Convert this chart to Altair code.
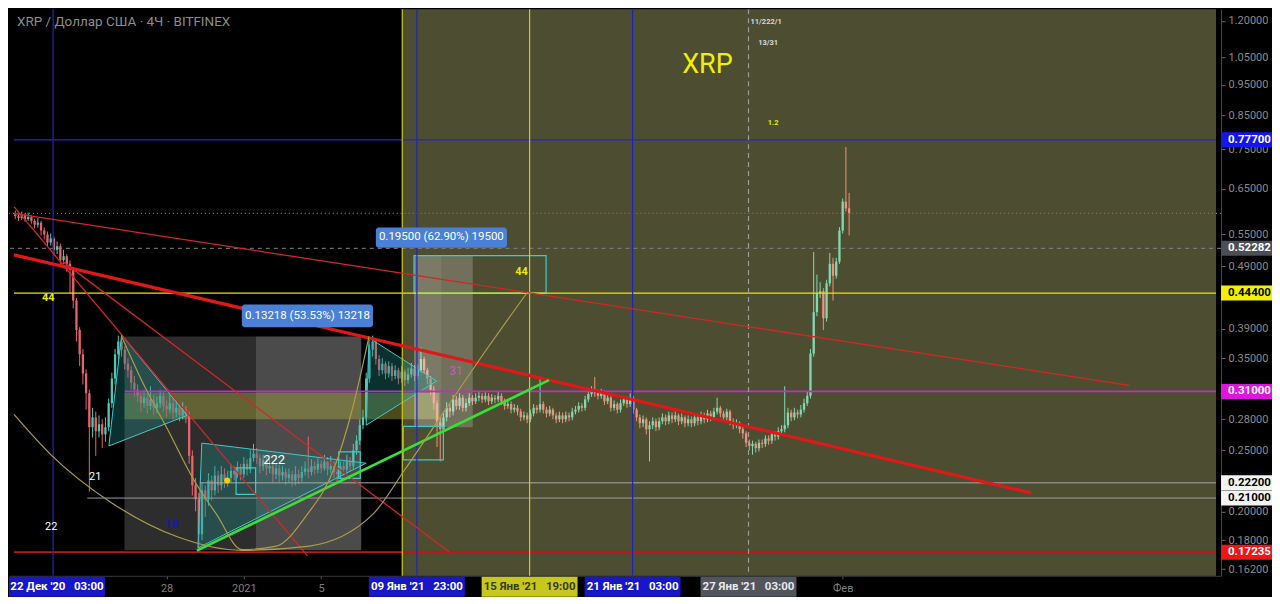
import altair as alt
import pandas as pd

# ---------------- layout ----------------
W, H = 1213, 567          # plot area
AX_R, AX_B = 51, 21       # right price axis / bottom time axis strips

X_DOMAIN = ["2020-12-20T02:24Z", "2021-02-20T07:54Z"]
Y_DOMAIN = [0.1581, 1.252]

TITLE = "XRP / Доллар США · 4Ч · BITFINEX"

# ---------------- candles (4h, Bitfinex XRP/USD) ----------------
CANDLE_START = "2020-12-20 04:00"
FIRST_OPEN = 0.592
CLOSES = [
    0.588, 0.584, 0.590, 0.582, 0.586, 0.578, 0.570, 0.574, 0.558, 0.550,
    0.534, 0.542, 0.520, 0.527, 0.501, 0.508, 0.494, 0.483, 0.432, 0.388,
    0.355, 0.331, 0.308, 0.272, 0.282, 0.268, 0.275, 0.265, 0.272, 0.297,
    0.325, 0.355, 0.372, 0.361, 0.343, 0.335, 0.320, 0.312, 0.305, 0.297,
    0.303, 0.294, 0.301, 0.292, 0.297, 0.305, 0.294, 0.290, 0.297, 0.287,
    0.292, 0.284, 0.290, 0.284, 0.245, 0.220, 0.209, 0.184, 0.216, 0.209,
    0.224, 0.216, 0.228, 0.220, 0.229, 0.224, 0.226, 0.232, 0.229, 0.234,
    0.229, 0.238, 0.233, 0.243, 0.247, 0.243, 0.236, 0.241, 0.234, 0.236,
    0.229, 0.234, 0.228, 0.231, 0.226, 0.229, 0.224, 0.229, 0.226, 0.231,
    0.234, 0.231, 0.236, 0.233, 0.238, 0.234, 0.240, 0.233, 0.236, 0.231,
    0.229, 0.236, 0.233, 0.240, 0.236, 0.250, 0.259, 0.274, 0.282, 0.325,
    0.361, 0.372, 0.349, 0.335, 0.343, 0.331, 0.340, 0.328, 0.335, 0.325,
    0.333, 0.323, 0.330, 0.337, 0.328, 0.335, 0.349, 0.335, 0.325, 0.312,
    0.297, 0.277, 0.270, 0.282, 0.292, 0.288, 0.301, 0.294, 0.303, 0.292,
    0.297, 0.303, 0.299, 0.303, 0.305, 0.301, 0.305, 0.299, 0.303, 0.301,
    0.305, 0.299, 0.294, 0.296, 0.290, 0.292, 0.288, 0.282, 0.284, 0.280,
    0.286, 0.292, 0.290, 0.296, 0.290, 0.286, 0.290, 0.284, 0.280, 0.284,
    0.280, 0.284, 0.282, 0.288, 0.290, 0.294, 0.292, 0.301, 0.307, 0.312,
    0.308, 0.305, 0.309, 0.299, 0.303, 0.292, 0.296, 0.290, 0.297, 0.301,
    0.296, 0.303, 0.290, 0.282, 0.276, 0.280, 0.270, 0.274, 0.278, 0.272,
    0.278, 0.282, 0.278, 0.284, 0.280, 0.284, 0.278, 0.282, 0.276, 0.280,
    0.276, 0.282, 0.278, 0.284, 0.280, 0.286, 0.282, 0.288, 0.292, 0.286,
    0.282, 0.288, 0.278, 0.274, 0.276, 0.270, 0.266, 0.257, 0.254, 0.256,
    0.252, 0.257, 0.256, 0.261, 0.259, 0.265, 0.263, 0.268, 0.270, 0.274,
    0.287, 0.282, 0.287, 0.285, 0.290, 0.297, 0.305, 0.356, 0.414, 0.444,
    0.447, 0.405, 0.460, 0.494, 0.473, 0.498, 0.558, 0.620, 0.605, 0.594,
]
HIGHS = [
    0.600, 0.594, 0.598, 0.594, 0.596, 0.590, 0.582, 0.584, 0.578, 0.564,
    0.556, 0.552, 0.546, 0.536, 0.532, 0.520, 0.512, 0.500, 0.488, 0.436,
    0.392, 0.362, 0.336, 0.312, 0.292, 0.288, 0.284, 0.280, 0.282, 0.302,
    0.332, 0.362, 0.380, 0.378, 0.366, 0.350, 0.340, 0.328, 0.318, 0.310,
    0.312, 0.308, 0.316, 0.306, 0.304, 0.312, 0.310, 0.300, 0.306, 0.302,
    0.300, 0.296, 0.298, 0.294, 0.288, 0.250, 0.226, 0.214, 0.222, 0.220,
    0.230, 0.228, 0.236, 0.232, 0.236, 0.234, 0.232, 0.238, 0.236, 0.240,
    0.238, 0.244, 0.242, 0.250, 0.256, 0.252, 0.246, 0.246, 0.244, 0.242,
    0.240, 0.238, 0.237, 0.236, 0.234, 0.234, 0.232, 0.236, 0.233, 0.236,
    0.240, 0.263, 0.242, 0.240, 0.243, 0.241, 0.246, 0.244, 0.245, 0.240,
    0.236, 0.240, 0.240, 0.246, 0.244, 0.256, 0.264, 0.280, 0.290, 0.332,
    0.368, 0.380, 0.376, 0.354, 0.350, 0.346, 0.346, 0.344, 0.341, 0.338,
    0.340, 0.336, 0.338, 0.344, 0.341, 0.342, 0.364, 0.352, 0.338, 0.328,
    0.316, 0.300, 0.282, 0.288, 0.298, 0.296, 0.306, 0.305, 0.308, 0.306,
    0.302, 0.308, 0.306, 0.308, 0.310, 0.308, 0.309, 0.308, 0.307, 0.306,
    0.310, 0.308, 0.302, 0.300, 0.299, 0.296, 0.295, 0.291, 0.288, 0.287,
    0.290, 0.296, 0.295, 0.327, 0.299, 0.293, 0.294, 0.292, 0.287, 0.288,
    0.287, 0.288, 0.287, 0.292, 0.294, 0.298, 0.297, 0.305, 0.312, 0.316,
    0.327, 0.312, 0.313, 0.311, 0.307, 0.305, 0.300, 0.298, 0.301, 0.305,
    0.304, 0.308, 0.305, 0.292, 0.285, 0.284, 0.282, 0.278, 0.282, 0.281,
    0.282, 0.286, 0.285, 0.288, 0.287, 0.288, 0.286, 0.286, 0.284, 0.284,
    0.283, 0.286, 0.285, 0.288, 0.287, 0.290, 0.289, 0.292, 0.303, 0.294,
    0.289, 0.291, 0.290, 0.281, 0.280, 0.278, 0.273, 0.268, 0.260, 0.259,
    0.258, 0.260, 0.260, 0.264, 0.264, 0.268, 0.268, 0.272, 0.274, 0.316,
    0.292, 0.290, 0.292, 0.290, 0.295, 0.302, 0.310, 0.362, 0.516, 0.475,
    0.462, 0.452, 0.466, 0.514, 0.505, 0.505, 0.565, 0.627, 0.757, 0.640,
]
LOWS = [
    0.582, 0.578, 0.580, 0.576, 0.578, 0.572, 0.562, 0.564, 0.548, 0.540,
    0.526, 0.528, 0.508, 0.512, 0.490, 0.494, 0.480, 0.444, 0.420, 0.372,
    0.340, 0.318, 0.290, 0.215, 0.262, 0.245, 0.262, 0.252, 0.258, 0.268,
    0.292, 0.318, 0.348, 0.352, 0.336, 0.326, 0.312, 0.304, 0.298, 0.288,
    0.292, 0.286, 0.290, 0.284, 0.286, 0.292, 0.288, 0.282, 0.286, 0.280,
    0.282, 0.278, 0.280, 0.276, 0.238, 0.212, 0.200, 0.172, 0.180, 0.196,
    0.204, 0.208, 0.212, 0.214, 0.216, 0.218, 0.219, 0.222, 0.224, 0.226,
    0.224, 0.226, 0.228, 0.230, 0.240, 0.238, 0.230, 0.232, 0.228, 0.230,
    0.222, 0.225, 0.222, 0.224, 0.220, 0.222, 0.219, 0.220, 0.221, 0.223,
    0.228, 0.226, 0.228, 0.229, 0.230, 0.230, 0.232, 0.228, 0.230, 0.226,
    0.222, 0.226, 0.228, 0.230, 0.231, 0.233, 0.246, 0.255, 0.270, 0.278,
    0.320, 0.352, 0.342, 0.328, 0.330, 0.324, 0.326, 0.322, 0.324, 0.318,
    0.320, 0.316, 0.319, 0.326, 0.322, 0.324, 0.332, 0.330, 0.318, 0.306,
    0.290, 0.253, 0.240, 0.264, 0.278, 0.282, 0.284, 0.290, 0.290, 0.288,
    0.288, 0.294, 0.295, 0.296, 0.299, 0.297, 0.298, 0.295, 0.296, 0.297,
    0.298, 0.295, 0.290, 0.291, 0.286, 0.287, 0.284, 0.278, 0.279, 0.276,
    0.277, 0.283, 0.286, 0.287, 0.286, 0.282, 0.283, 0.280, 0.276, 0.277,
    0.276, 0.277, 0.278, 0.279, 0.285, 0.287, 0.288, 0.289, 0.298, 0.304,
    0.304, 0.301, 0.302, 0.295, 0.296, 0.288, 0.289, 0.286, 0.287, 0.294,
    0.292, 0.293, 0.286, 0.278, 0.271, 0.272, 0.265, 0.240, 0.270, 0.268,
    0.269, 0.275, 0.274, 0.275, 0.276, 0.277, 0.274, 0.275, 0.272, 0.273,
    0.272, 0.273, 0.274, 0.275, 0.276, 0.277, 0.278, 0.279, 0.285, 0.282,
    0.278, 0.279, 0.274, 0.270, 0.271, 0.266, 0.261, 0.253, 0.250, 0.246,
    0.248, 0.249, 0.252, 0.253, 0.255, 0.256, 0.259, 0.260, 0.264, 0.267,
    0.271, 0.278, 0.279, 0.281, 0.282, 0.287, 0.294, 0.302, 0.352, 0.408,
    0.436, 0.388, 0.400, 0.455, 0.432, 0.468, 0.494, 0.552, 0.598, 0.548,
]

# ---------------- drawings (dates / prices) ----------------
H_SOLID = [
    (0.777, X_DOMAIN[0], X_DOMAIN[1], "#2626c4", 1.2),
    (0.444, X_DOMAIN[0], X_DOMAIN[1], "#e8e800", 1.2),
    (0.310, "2020-12-25T20:00Z", X_DOMAIN[1], "#c42cc4", 1.8),
    (0.222, "2020-12-29T17:18Z", X_DOMAIN[1], "#a8a8a8", 1.0),
    (0.210, "2020-12-23T21:30Z", X_DOMAIN[1], "#9c9c9c", 1.0),
    (0.17235, X_DOMAIN[0], X_DOMAIN[1], "#b41a1a", 1.6),
]
H_DASHED = [(0.52282, "#858585")]
H_DOTTED = [(0.594, "#a86a55")]

V_SOLID = [
    ("2020-12-22T03:00Z", "#2424b4"),
    ("2021-01-09T23:00Z", "#2424b4"),
    ("2021-01-21T03:00Z", "#2424b4"),
    ("2021-01-09T04:48Z", "#cccc10"),
    ("2021-01-15T19:00Z", "#cccc10"),
]
V_DASHED = [("2021-01-27T03:00Z", "#9a9a9a")]

OLIVE_START = "2021-01-09T04:48Z"

RED_THIN = [
    ("2020-12-20T02:24Z", 0.594, "2021-02-15T19:42Z", 0.317),
    ("2020-12-20T02:24Z", 0.609, "2021-01-04T07:00Z", 0.170),
    ("2020-12-22T15:12Z", 0.498, "2021-01-11T15:12Z", 0.1725),
]
RED_THICK = [("2020-12-20T02:24Z", 0.5105, "2021-02-10T18:12Z", 0.214)]
GREEN_LINE = [("2020-12-29T13:36Z", 0.1733, "2021-01-16T19:06Z", 0.323)]

ARC_BIG_T = ["2020-12-20T02:24Z", "2020-12-21T23:24Z", "2020-12-25T03:54Z", "2020-12-28T13:18Z",
             "2020-12-31T21:30Z", "2021-01-04T07:00Z", "2021-01-07T16:24Z", "2021-01-09T08:30Z",
             "2021-01-11T12:42Z", "2021-01-13T13:18Z", "2021-01-15T16:24Z"]
ARC_BIG_P = [0.285, 0.2466, 0.2063, 0.1823, 0.1735, 0.1760, 0.198, 0.2335, 0.293, 0.361, 0.4455]
ARC_SMALL_T = ["2020-12-25T16:06Z", "2020-12-26T20:00Z", "2020-12-28T01:12Z", "2020-12-29T08:48Z",
               "2020-12-30T13:54Z", "2020-12-31T21:30Z", "2021-01-02T14:54Z", "2021-01-04T07:00Z",
               "2021-01-05T15:48Z", "2021-01-06T16:06Z", "2021-01-07T11:30Z"]
ARC_SMALL_P = [0.379, 0.317, 0.270, 0.2256, 0.198, 0.1740, 0.1760, 0.198, 0.2335, 0.295, 0.379]

TRI_T = [
    ["2020-12-25T00:18Z", "2020-12-25T16:06Z", "2020-12-29T01:30Z"],
    ["2020-12-29T19:42Z", "2021-01-07T07:54Z", "2020-12-29T14:54Z"],
    ["2021-01-07T11:30Z", "2021-01-10T23:24Z", "2021-01-07T07:54Z"],
]
TRI_P = [
    [0.254, 0.381, 0.284],
    [0.2567, 0.2385, 0.175],
    [0.377, 0.322, 0.274],
]

CYAN_BOXES = [
    ("2020-12-31T14:18Z", "2021-01-01T14:36Z", 0.2344, 0.2128),
    ("2021-01-05T21:48Z", "2021-01-07T00:36Z", 0.2485, 0.2256),
    ("2021-01-09T06:06Z", "2021-01-11T07:54Z", 0.2728, 0.2414),
    ("2021-01-09T19:24Z", "2021-01-16T15:30Z", 0.509, 0.444),
]
SHADES = [
    ("2020-12-25T19:42Z", "2021-01-01T14:36Z", 0.379, 0.1735, "#2d2d2d", 1.0),
    ("2021-01-01T14:36Z", "2021-01-07T01:48Z", 0.379, 0.1735, "#4b4b4b", 1.0),
    ("2020-12-25T19:42Z", "2021-01-11T02:54Z", 0.3085, 0.280, "#a4a440", 0.45),
]
LIGHT_SHADES = [
    ("2021-01-09T19:24Z", "2021-01-12T20:24Z", 0.509, 0.272, "#ffffff", 0.20),
    ("2021-01-09T19:24Z", "2021-01-11T05:24Z", 0.509, 0.272, "#ffffff", 0.07),
]

MEASURES = [
    ("2020-12-31T21:30Z", "2021-01-07T16:24Z", 0.426, 0.392, "0.13218 (53.53%) 13218",
     "2021-01-04T07:00Z", 0.4085),
    ("2021-01-07T20:00Z", "2021-01-14T14:54Z", 0.564, 0.524, "0.19500 (62.90%) 19500",
     "2021-01-11T05:24Z", 0.544),
]

TEXTS = [
    ("44", "2020-12-21T21:00Z", 0.436, "#e8e800", 11, True),
    ("21", "2020-12-24T07:18Z", 0.227, "#ffffff", 11, False),
    ("22", "2020-12-22T00:36Z", 0.189, "#ffffff", 11, False),
    ("18", "2020-12-28T06:00Z", 0.191, "#1c1c96", 13, True),
    ("222", "2021-01-02T13:36Z", 0.2414, "#ffffff", 13, False),
    ("31", "2021-01-11T23:42Z", 0.3335, "#c060c0", 12, False),
    ("44", "2021-01-15T09:06Z", 0.480, "#e8e800", 11, True),
    ("XRP", "2021-01-25T00:00Z", 1.023, "#f0f000", 27, False),
    ("11/222/1", "2021-01-28T00:54Z", 1.196, "#d8d8d8", 7.5, True),
    ("13/31", "2021-01-28T03:24Z", 1.105, "#d8d8d8", 7.5, True),
    ("1.2", "2021-01-28T09:30Z", 0.827, "#e8e800", 7.5, True),
]
DOT = [("2020-12-31T03:18Z", 0.224)]

Y_TICKS = [1.2, 1.05, 0.95, 0.85, 0.75, 0.65, 0.55, 0.49, 0.39, 0.35, 0.28, 0.25, 0.20, 0.18, 0.162]
X_TICKS = ["2020-12-28T00:00Z", "2021-01-01T00:00Z", "2021-01-05T00:00Z", "2021-02-01T00:00Z"]

PRICE_BADGES = [
    (0.777, "0.77700", "#1515f0", "#ffffff"),
    (0.52282, "0.52282", "#4b4e56", "#ffffff"),
    (0.444, "0.44400", "#f2f200", "#000000"),
    (0.310, "0.31000", "#e014e0", "#ffffff"),
    (0.222, "0.22200", "#f4f4f4", "#000000"),
    (0.210, "0.21000", "#f4f4f4", "#000000"),
    (0.17235, "0.17235", "#f01414", "#ffffff"),
]
TIME_BADGES = [
    ("2021-01-09T23:00Z", "09 Янв '21", "23:00", "#1717c8", "#ffffff"),
    ("2021-01-15T19:00Z", "15 Янв '21", "19:00", "#c8c81c", "#3a3a10"),
    ("2021-01-21T03:00Z", "21 Янв '21", "03:00", "#1717c8", "#ffffff"),
    ("2021-01-27T03:00Z", "27 Янв '21", "03:00", "#53555c", "#e8e8e8"),
]
FIRST_BADGE = ("22 Дек '20", "03:00", "#1717c8", "#ffffff")

GREEN, RED = "#4cc9b4", "#e8636b"
FONT = "Roboto"
SP = "\u00a0\u00a0\u00a0"


# ---------------- helpers ----------------
def ms(s):
    return int(pd.Timestamp(s).value // 10**6)


XS = alt.Scale(type="utc", domain=[ms(d) for d in X_DOMAIN], nice=False)
YS = alt.Scale(type="log", domain=Y_DOMAIN, nice=False)

X_AXIS = alt.Axis(
    values=[ms(v) for v in X_TICKS],
    labelExpr="utcmonth(datum.value)==0 && utcdate(datum.value)==1 ? '2021' : "
              "(utcmonth(datum.value)==1 && utcdate(datum.value)==1 ? 'Фев' : '' + utcdate(datum.value))",
    labelColor="#7e7e7e", labelFont=FONT, labelFontSize=11, labelPadding=4,
    tickColor="#5a5a5a", tickSize=3, domainColor="#3a3a3a", grid=False,
    labelFlush=False, labelOverlap=False, title=None,
)
Y_AXIS = alt.Axis(
    orient="right", values=Y_TICKS, format=".5f",
    labelColor="#8a8a8a", labelFont=FONT, labelFontSize=11, labelPadding=3,
    tickColor="#6a6a6a", tickSize=4, domainColor="#4a4a4a", grid=False,
    labelFlush=False, labelOverlap=False, title=None,
)


def X(f):
    return alt.X(f"{f}:T", scale=XS, axis=X_AXIS, title=None)


def Y(f):
    return alt.Y(f"{f}:Q", scale=YS, axis=Y_AXIS, title=None)


times = pd.date_range(CANDLE_START, periods=len(CLOSES), freq="4h").strftime("%Y-%m-%dT%H:%MZ")
opens = [FIRST_OPEN] + CLOSES[:-1]
cdf = pd.DataFrame({"t": list(times), "o": opens, "c": CLOSES, "h": HIGHS, "l": LOWS})
cdf["d"] = ["up" if c >= o else "down" for o, c in zip(cdf.o, cdf.c)]
ccol = alt.Color("d:N", scale=alt.Scale(domain=["up", "down"], range=[GREEN, RED]), legend=None)

layers = []

sdf = pd.DataFrame(SHADES, columns=["t1", "t2", "p1", "p2", "col", "op"])
layers.append(alt.Chart(sdf).mark_rect().encode(
    x=X("t1"), x2="t2", y=Y("p1"), y2="p2",
    color=alt.Color("col:N", scale=None), opacity=alt.Opacity("op:Q", scale=None)))

layers.append(alt.Chart(cdf).mark_rule(strokeWidth=1).encode(
    x=X("t"), y=Y("l"), y2="h", color=ccol))
layers.append(alt.Chart(cdf).mark_bar(width=2.3).encode(x=X("t"), y=Y("o"), y2="c", color=ccol))

odf = pd.DataFrame({"t1": [OLIVE_START], "t2": [X_DOMAIN[1]], "p1": [Y_DOMAIN[1]], "p2": [Y_DOMAIN[0]]})
layers.append(alt.Chart(odf).mark_rect(color="#ffffa6", opacity=0.30).encode(
    x=X("t1"), x2="t2", y=Y("p1"), y2="p2"))

ldf = pd.DataFrame(LIGHT_SHADES, columns=["t1", "t2", "p1", "p2", "col", "op"])
layers.append(alt.Chart(ldf).mark_rect().encode(
    x=X("t1"), x2="t2", y=Y("p1"), y2="p2",
    color=alt.Color("col:N", scale=None), opacity=alt.Opacity("op:Q", scale=None)))

trows = []
for i, (ts, ps) in enumerate(zip(TRI_T, TRI_P)):
    for k, (t, p) in enumerate(zip(ts, ps)):
        trows.append({"id": i, "k": k, "t": t, "p": p})
tdf = pd.DataFrame(trows)
layers.append(alt.Chart(tdf).mark_line(
    interpolate="linear-closed", fill="#1f8a8a", fillOpacity=0.35,
    stroke="#3fcaca", strokeWidth=1).encode(
    x=X("t"), y=Y("p"), detail="id:N", order="k:Q"))

bdf = pd.DataFrame(CYAN_BOXES, columns=["t1", "t2", "p1", "p2"])
layers.append(alt.Chart(bdf).mark_rect(fillOpacity=0, stroke="#3fcaca", strokeWidth=1.2).encode(
    x=X("t1"), x2="t2", y=Y("p1"), y2="p2"))

hdf = pd.DataFrame(H_SOLID, columns=["p", "t1", "t2", "col", "w"])
layers.append(alt.Chart(hdf).mark_rule().encode(
    x=X("t1"), x2="t2", y=Y("p"),
    color=alt.Color("col:N", scale=None), strokeWidth=alt.StrokeWidth("w:Q", scale=None)))
hd = pd.DataFrame(H_DASHED, columns=["p", "col"])
layers.append(alt.Chart(hd).mark_rule(strokeDash=[4, 4], strokeWidth=1).encode(
    y=Y("p"), color=alt.Color("col:N", scale=None)))
ht = pd.DataFrame(H_DOTTED, columns=["p", "col"])
layers.append(alt.Chart(ht).mark_rule(strokeDash=[1, 3], strokeWidth=1.2).encode(
    y=Y("p"), color=alt.Color("col:N", scale=None)))

vdf = pd.DataFrame(V_SOLID, columns=["t", "col"])
layers.append(alt.Chart(vdf).mark_rule(strokeWidth=1.2).encode(
    x=X("t"), color=alt.Color("col:N", scale=None)))
vd = pd.DataFrame(V_DASHED, columns=["t", "col"])
layers.append(alt.Chart(vd).mark_rule(strokeWidth=1.2, strokeDash=[5, 4]).encode(
    x=X("t"), color=alt.Color("col:N", scale=None)))


def seg_layer(rows, color, width):
    d = pd.DataFrame(rows, columns=["t1", "p1", "t2", "p2"])
    return alt.Chart(d).mark_rule(color=color, strokeWidth=width).encode(
        x=X("t1"), x2="t2", y=Y("p1"), y2="p2")


layers.append(seg_layer(RED_THIN, "#d42626", 1.3))
layers.append(seg_layer(RED_THICK, "#e01818", 3.2))
layers.append(seg_layer(GREEN_LINE, "#38e038", 2.6))

arows = [{"id": "big", "t": t, "p": p} for t, p in zip(ARC_BIG_T, ARC_BIG_P)]
arows += [{"id": "small", "t": t, "p": p} for t, p in zip(ARC_SMALL_T, ARC_SMALL_P)]
layers.append(alt.Chart(pd.DataFrame(arows)).mark_line(
    color="#ab9e46", strokeWidth=1.2, interpolate="monotone").encode(
    x=X("t"), y=Y("p"), detail="id:N"))

mdf = pd.DataFrame(MEASURES, columns=["t1", "t2", "p1", "p2", "txt", "tc", "pc"])
layers.append(alt.Chart(mdf).mark_rect(color="#4a80d8", cornerRadius=3).encode(
    x=X("t1"), x2="t2", y=Y("p1"), y2="p2"))
layers.append(alt.Chart(mdf).mark_text(color="#ffffff", font=FONT, fontSize=11.5).encode(
    x=X("tc"), y=Y("pc"), text="txt:N"))

tx = pd.DataFrame(TEXTS, columns=["s", "t", "p", "col", "size", "bold"])
for bold in (False, True):
    sub = tx[tx.bold == bold]
    layers.append(alt.Chart(sub).mark_text(
        font=FONT, fontWeight="bold" if bold else "normal", baseline="middle").encode(
        x=X("t"), y=Y("p"), text="s:N",
        color=alt.Color("col:N", scale=None), size=alt.Size("size:Q", scale=None)))

layers.append(alt.Chart(pd.DataFrame(DOT, columns=["t", "p"])).mark_point(
    filled=True, color="#f2d000", size=36, opacity=1).encode(x=X("t"), y=Y("p")))

layers.append(alt.Chart(pd.DataFrame({"s": [TITLE]})).mark_text(
    align="left", baseline="middle", font=FONT, fontSize=13.5, color="#8c8c8c").encode(
    x=alt.value(8), y=alt.value(13), text="s:N"))

pb = pd.DataFrame(PRICE_BADGES, columns=["p", "s", "bg", "fg"])
layers.append(alt.Chart(pb).mark_rect(yOffset=-7.5, y2Offset=7.5).encode(
    x=alt.value(W), x2=alt.value(W + AX_R), y=Y("p"), y2="p",
    color=alt.Color("bg:N", scale=None)))
layers.append(alt.Chart(pb).mark_text(
    align="left", baseline="middle", font=FONT, fontSize=11.5, fontWeight="bold").encode(
    x=alt.value(W + 7), y=Y("p"), text="s:N", color=alt.Color("fg:N", scale=None)))

tb = pd.DataFrame(TIME_BADGES, columns=["t", "d", "h", "bg", "fg"])
tb["s"] = tb.d + SP + tb.h
layers.append(alt.Chart(tb).mark_rect(xOffset=-48, x2Offset=48).encode(
    x=X("t"), x2="t", y=alt.value(H + 1), y2=alt.value(H + AX_B),
    color=alt.Color("bg:N", scale=None)))
layers.append(alt.Chart(tb).mark_text(
    baseline="middle", font=FONT, fontSize=11.5, fontWeight="bold").encode(
    x=X("t"), y=alt.value(H + 11), text="s:N", color=alt.Color("fg:N", scale=None)))

fb = pd.DataFrame([FIRST_BADGE], columns=["d", "h", "bg", "fg"])
fb["s"] = fb.d + SP + fb.h
layers.append(alt.Chart(fb).mark_rect().encode(
    x=alt.value(0), x2=alt.value(96), y=alt.value(H + 1), y2=alt.value(H + AX_B),
    color=alt.Color("bg:N", scale=None)))
layers.append(alt.Chart(fb).mark_text(
    baseline="middle", font=FONT, fontSize=11.5, fontWeight="bold").encode(
    x=alt.value(48), y=alt.value(H + 11), text="s:N", color=alt.Color("fg:N", scale=None)))

chart = alt.layer(*layers).properties(
    width=W, height=H, background="#000000", padding=0
).configure_view(stroke=None)

chart.save("out.html", embed_options={"renderer": "svg", "actions": False})
